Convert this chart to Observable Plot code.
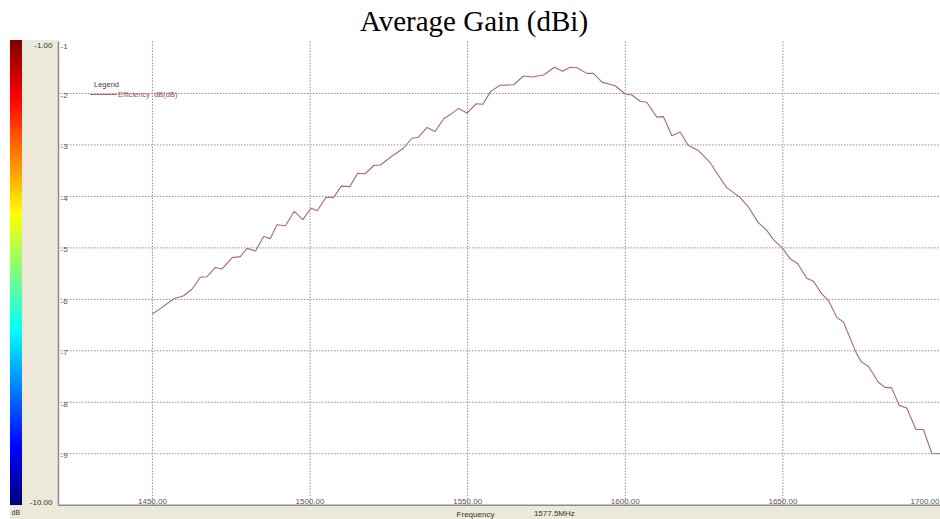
<!DOCTYPE html>
<html><head><meta charset="utf-8">
<script src="https://cdn.jsdelivr.net/npm/d3@7"></script>
<script src="https://cdn.jsdelivr.net/npm/@observablehq/plot@0.6"></script>
<style>
html,body{margin:0;padding:0;background:#fff;overflow:hidden;}
#root{position:relative;width:940px;height:519px;font-family:"Liberation Sans",Arial,sans-serif;}
#title{position:absolute;left:4px;top:3px;width:940px;height:36px;line-height:36px;text-align:center;font-family:"Liberation Serif","Times New Roman",serif;font-size:29px;color:#000;}
.beige{position:absolute;background:#ECE9D8;}
#chart{position:absolute;left:0;top:36px;}
#cbar{position:absolute;left:10px;top:36px;}
.lg{position:absolute;font-size:7.5px;line-height:9px;white-space:pre;}
</style></head><body>
<div id="root">
  <div id="title">Average Gain (dBi)</div>
  <div class="beige" style="left:10px;top:40px;width:48px;height:479px"></div>
  <div class="beige" style="left:10px;top:505px;width:930px;height:14px"></div>
  <div id="chart"></div>
  <div id="cbar"></div>
  <div class="lg" style="left:94px;top:80px;color:#3c3c60">Legend</div>
  <div style="position:absolute;left:90px;top:94px;width:27px;height:0;border-top:1px solid #a86b6b"></div>
  <div class="lg" style="left:118px;top:89.5px;color:#a04848">Efficiency  dB(dB)</div>
</div>
<script>
const seriesName = "Efficiency  dB(dB)";
const freq = [1450.1, 1452.5, 1456.8, 1459.9, 1462.6, 1465.2, 1467.3, 1470.0, 1472.1, 1475.3, 1477.9, 1480.0, 1482.7, 1485.3, 1487.4, 1489.5, 1492.2, 1495.0, 1497.7, 1500.3, 1502.3, 1505.0, 1507.5, 1509.9, 1512.6, 1515.1, 1517.5, 1520.2, 1522.3, 1525.5, 1529.7, 1532.3, 1534.4, 1537.1, 1539.7, 1542.4, 1544.5, 1547.1, 1549.8, 1552.7, 1554.8, 1557.3, 1560.3, 1564.6, 1567.7, 1570.4, 1574.1, 1577.5, 1580.1, 1582.5, 1584.7, 1587.8, 1589.9, 1592.6, 1596.8, 1600.0, 1602.1, 1604.7, 1606.8, 1610.0, 1612.1, 1614.8, 1617.4, 1620.0, 1623.2, 1626.9, 1629.5, 1632.2, 1636.4, 1639.1, 1642.2, 1644.9, 1647.0, 1649.9, 1652.3, 1654.7, 1657.6, 1659.7, 1662.3, 1664.4, 1667.1, 1669.2, 1673.4, 1675.0, 1677.1, 1680.3, 1682.4, 1684.5, 1686.9, 1689.3, 1692.2, 1694.6, 1697.2, 1700.0];
const gain = [-6.28, -6.18, -5.99, -5.93, -5.80, -5.57, -5.56, -5.38, -5.41, -5.19, -5.17, -5.01, -5.06, -4.78, -4.82, -4.55, -4.57, -4.29, -4.45, -4.23, -4.28, -4.02, -4.02, -3.80, -3.81, -3.55, -3.56, -3.40, -3.39, -3.24, -3.06, -2.87, -2.85, -2.66, -2.74, -2.49, -2.41, -2.29, -2.38, -2.20, -2.21, -1.96, -1.84, -1.83, -1.66, -1.68, -1.64, -1.49, -1.57, -1.49, -1.50, -1.61, -1.61, -1.78, -1.85, -2.01, -2.03, -2.15, -2.17, -2.46, -2.45, -2.82, -2.75, -3.01, -3.11, -3.34, -3.59, -3.83, -4.02, -4.21, -4.51, -4.66, -4.84, -5.01, -5.21, -5.31, -5.59, -5.65, -5.89, -6.02, -6.35, -6.44, -7.06, -7.22, -7.30, -7.61, -7.71, -7.72, -8.06, -8.11, -8.53, -8.53, -8.99, -9.00];
const xTicks = [1450, 1500, 1550, 1600, 1650, 1700];
const yTicks = [-1, -2, -3, -4, -5, -6, -7, -8, -9];
const markerFreq = 1577.5;
const cbarMax = -1, cbarMin = -10;
const jetStops = [-10, -8.875, -6.625, -4.375, -2.125, -1];
const jetColors = ["#000080", "#0000ff", "#00ffff", "#ffff00", "#ff0000", "#800000"];

const data = freq.slice(0, Math.min(freq.length, gain.length)).map((f, i) => ({f, g: gain[i]}));
const xDomain = [1420.2, 1700];
const font = "Liberation Sans, Arial, sans-serif";
const gridStyle = {stroke: "#909090", strokeOpacity: 1, strokeDasharray: "1.5,1.5"};
const lastTick = xTicks[xTicks.length - 1];

const chart = Plot.plot({
  width: 940, height: 483,
  marginLeft: 58, marginRight: 0, marginTop: 5.5, marginBottom: 14.3,
  x: {domain: xDomain, axis: null},
  y: {domain: [cbarMin, cbarMax], axis: null},
  style: {background: "transparent", fontFamily: font, fontSize: "8px", overflow: "visible"},
  marks: [
    Plot.frame({fill: "white", stroke: null}),
    Plot.gridY(yTicks.filter(d => d !== -1), gridStyle),
    Plot.gridX(xTicks.filter(d => d !== lastTick), gridStyle),
    Plot.ruleY([cbarMin], {stroke: "#8c8c8c", strokeWidth: 1.5}),
    Plot.ruleX([xDomain[0]], {stroke: "#8c8c8c", strokeWidth: 1.5}),
    Plot.line(data, {x: "f", y: "g", stroke: "#a86b6b", strokeWidth: 1.1}),
    Plot.text(xTicks.filter(d => d !== lastTick), {x: d => d, text: d => d.toFixed(2), frameAnchor: "bottom", lineAnchor: "bottom", dy: -1, fill: "#555"}),
    Plot.text([lastTick], {x: d => d, text: d => d.toFixed(2), frameAnchor: "bottom", lineAnchor: "bottom", textAnchor: "end", dx: -1, dy: -1, fill: "#555"}),
    Plot.text(yTicks.filter(d => d !== -1), {y: d => d, text: d => String(d), frameAnchor: "left", textAnchor: "start", dx: 2, dy: 2, fill: "#555"}),
    Plot.text([-1], {y: d => d, text: d => String(d), frameAnchor: "left", textAnchor: "start", lineAnchor: "top", dx: 2, dy: 1.5, fill: "#555"}),
    Plot.text([markerFreq], {x: d => d, text: d => `${d}MHz`, frameAnchor: "bottom", lineAnchor: "middle", dy: 8.5, fill: "#333"}),
    Plot.text(["Frequency"], {frameAnchor: "bottom", lineAnchor: "middle", dx: -24, dy: 9.5, fill: "#333"})
  ]
});
document.getElementById("chart").append(chart);

const step = 0.05;
const cells = d3.range(cbarMin, cbarMax, step);
const cbar = Plot.plot({
  width: 48, height: 483,
  marginLeft: 0, marginRight: 36, marginTop: 4, marginBottom: 14,
  x: {domain: [0, 1], axis: null},
  y: {domain: [cbarMin, cbarMax], axis: null},
  color: {type: "linear", domain: jetStops, range: jetColors},
  style: {background: "transparent", fontFamily: font, fontSize: "8px", overflow: "visible"},
  marks: [
    Plot.rect(cells, {x1: 0, x2: 1, y1: d => d, y2: d => Math.min(cbarMax, d + step * 1.3), fill: d => d + step / 2}),
    Plot.text([cbarMax], {y: d => d, text: d => d.toFixed(2), frameAnchor: "right", textAnchor: "end", lineAnchor: "top", dx: 30, dy: 2, fill: "#333"}),
    Plot.text([cbarMin], {y: d => d, text: d => d.toFixed(2), frameAnchor: "right", textAnchor: "end", lineAnchor: "bottom", dx: 30, dy: -1, fill: "#333"}),
    Plot.text(["dB"], {frameAnchor: "bottom-left", textAnchor: "start", lineAnchor: "middle", dx: 1, dy: 7, fill: "#333", fontSize: 7})
  ]
});
document.getElementById("cbar").append(cbar);
</script>
</body></html>
